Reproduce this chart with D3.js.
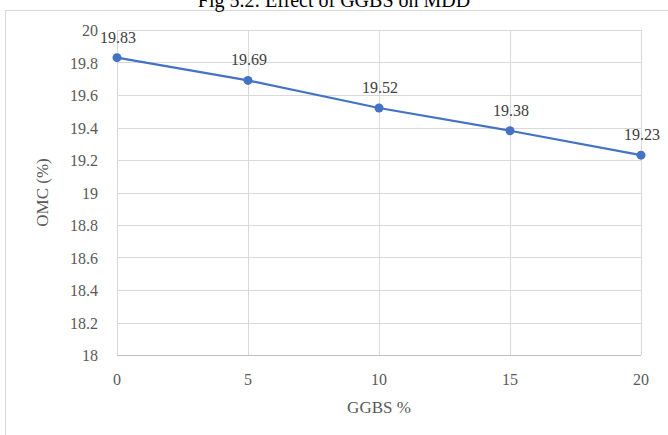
<!DOCTYPE html>
<html>
<head>
<meta charset="utf-8">
<script src="https://cdn.jsdelivr.net/npm/d3@7"></script>
<style>
  body { margin: 0; background: #fff; }
  svg { display: block; }
</style>
</head>
<body>
<div id="chart"></div>
<script>
// chart data
var ggbs = [0, 5, 10, 15, 20];
var omc = [19.83, 19.69, 19.52, 19.38, 19.23];
var yTicks = [18, 18.2, 18.4, 18.6, 18.8, 19, 19.2, 19.4, 19.6, 19.8, 20];
var xTicks = [0, 5, 10, 15, 20];

var width = 668, height = 435;
var margin = {top: 30, right: 27, bottom: 80, left: 117};

var svg = d3.select("#chart").append("svg")
  .attr("width", width)
  .attr("height", height);

// outer chart border (runs off the right and bottom edge)
svg.append("rect")
  .attr("x", 5.5).attr("y", 10.5)
  .attr("width", 700).attr("height", 500)
  .style("fill", "none")
  .style("stroke", "#d9d9d9");

// title, cut off at the top
svg.append("text")
  .attr("x", 334).attr("y", 7)
  .attr("text-anchor", "middle")
  .style("font-family", "'Liberation Serif', serif")
  .style("font-size", "20px")
  .style("fill", "#000")
  .text("Fig 5.2: Effect of GGBS on MDD");

var x = d3.scaleLinear().domain([0, 20]).range([margin.left, width - margin.right]);
var y = d3.scaleLinear().domain([18, 20]).range([height - margin.bottom, margin.top]);

var font = "'Liberation Serif', 'Times New Roman', serif";

// horizontal grid
svg.append("g")
  .selectAll("line")
  .data(yTicks.slice(1))
  .enter().append("line")
  .attr("x1", x(0)).attr("x2", x(20))
  .attr("y1", function(d) { return Math.round(y(d)) + 0.5; })
  .attr("y2", function(d) { return Math.round(y(d)) + 0.5; })
  .style("stroke", "#d9d9d9").style("stroke-width", 1);

// vertical grid
svg.append("g")
  .selectAll("line")
  .data(xTicks)
  .enter().append("line")
  .attr("x1", function(d) { return Math.round(x(d)) + 0.5; })
  .attr("x2", function(d) { return Math.round(x(d)) + 0.5; })
  .attr("y1", y(20)).attr("y2", y(18))
  .style("stroke", "#d9d9d9").style("stroke-width", 1);

// bottom axis line
svg.append("line")
  .attr("x1", x(0)).attr("x2", x(20))
  .attr("y1", Math.round(y(18)) + 0.5).attr("y2", Math.round(y(18)) + 0.5)
  .style("stroke", "#bfbfbf");

// y tick labels
svg.append("g")
  .selectAll("text")
  .data(yTicks)
  .enter().append("text")
  .attr("x", x(0) - 19)
  .attr("y", function(d) { return y(d) + 6; })
  .attr("text-anchor", "end")
  .style("font-family", font).style("font-size", "16px").style("fill", "#595959")
  .text(function(d) { return d3.format("")(d); });

// x tick labels
svg.append("g")
  .selectAll("text")
  .data(xTicks)
  .enter().append("text")
  .attr("x", function(d) { return x(d); })
  .attr("y", y(18) + 30)
  .attr("text-anchor", "middle")
  .style("font-family", font).style("font-size", "16px").style("fill", "#595959")
  .text(function(d) { return d; });

// axis titles
svg.append("text")
  .attr("x", (x(0) + x(20)) / 2).attr("y", y(18) + 58)
  .attr("text-anchor", "middle")
  .style("font-family", font).style("font-size", "17px").style("fill", "#595959")
  .text("GGBS %");

svg.append("text")
  .attr("transform", "translate(48," + (y(19)) + ") rotate(-90)")
  .attr("text-anchor", "middle")
  .style("font-family", font).style("font-size", "17px").style("fill", "#595959")
  .text("OMC (%)");

// series
var pts = ggbs.map(function(g, i) { return {x: g, y: omc[i]}; });

var line = d3.line()
  .x(function(d) { return x(d.x); })
  .y(function(d) { return y(d.y); });

svg.append("path")
  .datum(pts)
  .attr("d", line)
  .style("fill", "none")
  .style("stroke", "#4472c4")
  .style("stroke-width", 2.25);

svg.append("g")
  .selectAll("circle")
  .data(pts)
  .enter().append("circle")
  .attr("cx", function(d) { return x(d.x); })
  .attr("cy", function(d) { return y(d.y); })
  .attr("r", 4.5)
  .style("fill", "#4472c4");

// data labels
svg.append("g")
  .selectAll("text")
  .data(pts)
  .enter().append("text")
  .attr("x", function(d) { return x(d.x) + 1; })
  .attr("y", function(d) { return y(d.y) - 15; })
  .attr("text-anchor", "middle")
  .style("font-family", font).style("font-size", "16px").style("fill", "#404040")
  .text(function(d) { return d.y; });
</script>
</body>
</html>
